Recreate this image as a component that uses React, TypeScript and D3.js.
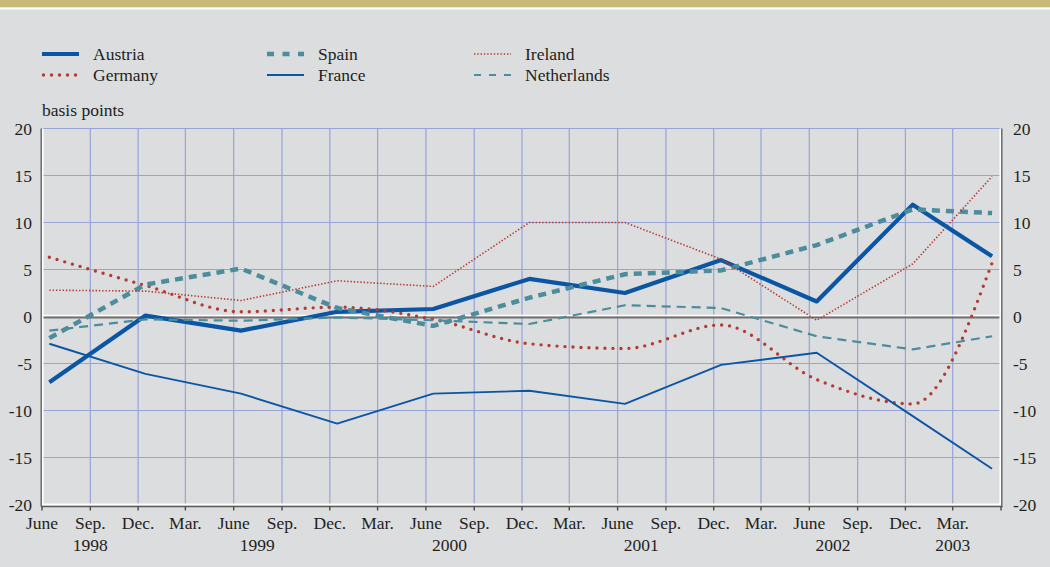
import React from "react";
import * as d3 from "d3";

// ---- data ----
const pointDates = [
  "1998-06-15", "1998-12-15", "1999-06-15", "1999-12-15", "2000-06-15",
  "2000-12-15", "2001-06-15", "2001-12-15", "2002-06-15", "2002-12-15", "2003-05-15",
];
const austria = [-7.0, 0.1, -1.5, 0.5, 0.8, 4.0, 2.5, 6.0, 1.6, 11.9, 6.4];
const germany = [6.3, 3.3, 0.5, 1.0, -0.3, -2.9, -3.4, -0.9, -6.7, -9.3, 5.7];
const spain = [-2.3, 3.4, 5.1, 0.9, -1.0, 2.0, 4.5, 4.9, 7.6, 11.4, 11.0];
const france = [-2.9, -6.1, -8.2, -11.4, -8.2, -7.9, -9.3, -5.15, -3.85, -10.6, -16.2];
const ireland = [2.8, 2.7, 1.7, 3.8, 3.2, 10.0, 10.0, 6.1, -0.4, 5.6, 14.9];
const netherlands = [-1.5, -0.3, -0.45, -0.1, -0.4, -0.8, 1.2, 0.9, -2.1, -3.5, -2.1];

const tickDates = [
  "1998-06-01", "1998-09-01", "1998-12-01", "1999-03-01", "1999-06-01", "1999-09-01",
  "1999-12-01", "2000-03-01", "2000-06-01", "2000-09-01", "2000-12-01", "2001-03-01",
  "2001-06-01", "2001-09-01", "2001-12-01", "2002-03-01", "2002-06-01", "2002-09-01",
  "2002-12-01", "2003-03-01", "2003-06-01",
];
const tickLabels = [
  "June", "Sep.", "Dec.", "Mar.", "June", "Sep.", "Dec.", "Mar.", "June", "Sep.",
  "Dec.", "Mar.", "June", "Sep.", "Dec.", "Mar.", "June", "Sep.", "Dec.", "Mar.", "",
];
const yearLabels = ["1998", "1999", "2000", "2001", "2002", "2003"];
const yearAnchors = ["1998-09-01", "1999-07-16", "2000-07-16", "2001-07-16", "2002-07-16", "2003-03-01"];
const yTicks = [-20, -15, -10, -5, 0, 5, 10, 15, 20];

const BLUE = "#0b56a4";
const RED = "#b53a2f";
const TEAL = "#4b8d9d";

type S = {
  name: string; values: number[]; color: string; width: number;
  dash?: string; cap?: "round" | "butt"; curve?: boolean; legendDash?: string;
};
const series: S[] = [
  { name: "Austria", values: austria, color: BLUE, width: 4.2 },
  { name: "Germany", values: germany, color: RED, width: 3.4, dash: "0 8", cap: "round", curve: true },
  { name: "Spain", values: spain, color: TEAL, width: 4.5, dash: "8 6", legendDash: "7 8.5" },
  { name: "France", values: france, color: BLUE, width: 1.9 },
  { name: "Ireland", values: ireland, color: RED, width: 1.6, dash: "1.4 1.9" },
  { name: "Netherlands", values: netherlands, color: TEAL, width: 2.2, dash: "9 6", legendDash: "7 8" },
];
const legendOrder = [0, 2, 4, 1, 3, 5];

const FONT = '"Liberation Serif", "DejaVu Serif", "Times New Roman", Times, serif';

export default function App() {
  const W = 1050, H = 567;
  const x = d3.scaleTime()
    .domain([new Date("1998-06-01"), new Date("2003-06-01")])
    .range([42, 1001]);
  const y = d3.scaleLinear().domain([-20, 20]).range([504.5, 128.5]);
  const parse = (s: string) => new Date(s);
  const txt = "#231f20";
  const ts: React.CSSProperties = { fontFamily: FONT, fontSize: "17.5px" };

  const line = (vals: number[], curve?: boolean) =>
    d3.line<number>()
      .x((_, i) => x(parse(pointDates[i])))
      .y((v) => y(v))
      .curve(curve ? d3.curveMonotoneX : d3.curveLinear)(vals) as string;

  const x0 = x.range()[0], x1 = x.range()[1];
  const yTop = y(20), yBot = y(-20), yZero = y(0);

  return (
    <svg width={W} height={H} style={{ position: "absolute", left: 0, top: 0 }}>
      <rect x={0} y={0} width={W} height={H} fill="#dcdddf" />
      <rect x={0} y={0} width={W} height={7.5} fill="#c8b87a" />
      <rect x={0} y={7.5} width={W} height={2} fill="#ffffff" />

      {/* legend */}
      {legendOrder.map((si, k) => {
        const s = series[si];
        const col = k % 3, row = Math.floor(k / 3);
        const lx = [42, 267, 474][col];
        const ly = [54, 75][row];
        return (
          <g key={s.name}>
            <line x1={lx + (s.cap === "round" ? 1.5 : 0)} x2={lx + 37} y1={ly} y2={ly}
              stroke={s.color} strokeWidth={s.width}
              strokeDasharray={s.legendDash || s.dash} strokeLinecap={s.cap || "butt"} />
            <text x={lx + 51} y={ly + 6} style={ts} fill={txt}>{s.name}</text>
          </g>
        );
      })}
      <text x={42} y={116} style={ts} fill={txt}>basis points</text>

      {/* grid */}
      {yTicks.filter((t) => t !== 0 && t !== -20).map((t) => (
        <line key={"h" + t} x1={x0} x2={x1} y1={y(t)} y2={y(t)} stroke="#96a4d8" strokeWidth={1.2} />
      ))}
      {tickDates.slice(1, -1).map((d) => (
        <line key={"v" + d} x1={x(parse(d))} x2={x(parse(d))} y1={yTop} y2={yBot} stroke="#96a4d8" strokeWidth={1.2} />
      ))}

      {/* axes embossed */}
      <line x1={x0} x2={x1} y1={yZero - 1} y2={yZero - 1} stroke="#ffffff" strokeWidth={1.5} />
      <line x1={x0} x2={x1} y1={yZero + 1} y2={yZero + 1} stroke="#707070" strokeWidth={1.8} />
      <line x1={x0} x2={x1 + 1} y1={yBot} y2={yBot} stroke="#ffffff" strokeWidth={1.8} />
      <line x1={x0 - 1} x2={x1 + 1.5} y1={yBot + 2} y2={yBot + 2} stroke="#5a5a5a" strokeWidth={1.6} />
      <line x1={x0 - 0.8} x2={x0 - 0.8} y1={yTop} y2={yBot + 2} stroke="#6a6a6a" strokeWidth={1.5} />
      <line x1={x0 + 0.8} x2={x0 + 0.8} y1={yTop} y2={yBot} stroke="#ffffff" strokeWidth={1.5} />
      <line x1={x1 - 0.8} x2={x1 - 0.8} y1={yTop} y2={yBot} stroke="#ffffff" strokeWidth={1.5} />
      <line x1={x1 + 0.8} x2={x1 + 0.8} y1={yTop} y2={yBot + 2} stroke="#6a6a6a" strokeWidth={1.5} />
      {tickDates.map((d) => (
        <line key={"t" + d} x1={x(parse(d))} x2={x(parse(d))} y1={yBot + 2} y2={yBot + 6} stroke="#4a4a4a" strokeWidth={1.4} />
      ))}

      {/* series */}
      {series.map((s) => (
        <path key={s.name} d={line(s.values, s.curve)} fill="none" stroke={s.color}
          strokeWidth={s.width} strokeDasharray={s.dash} strokeLinecap={s.cap || "butt"}
          strokeLinejoin="round" />
      ))}

      {/* y labels */}
      {yTicks.map((t) => (
        <g key={"yl" + t}>
          <text x={32} y={y(t)} dy="0.35em" textAnchor="end" style={ts} fill={txt}>{t}</text>
          <text x={1013} y={y(t)} dy="0.35em" textAnchor="start" style={ts} fill={txt}>{t}</text>
        </g>
      ))}

      {/* x labels */}
      {tickDates.map((d, i) => (
        <text key={"xl" + d} x={x(parse(d))} y={529} textAnchor="middle" style={ts} fill={txt}>{tickLabels[i]}</text>
      ))}
      {yearLabels.map((yl, i) => (
        <text key={yl} x={x(parse(yearAnchors[i]))} y={551} textAnchor="middle" style={ts} fill={txt}>{yl}</text>
      ))}
    </svg>
  );
}
